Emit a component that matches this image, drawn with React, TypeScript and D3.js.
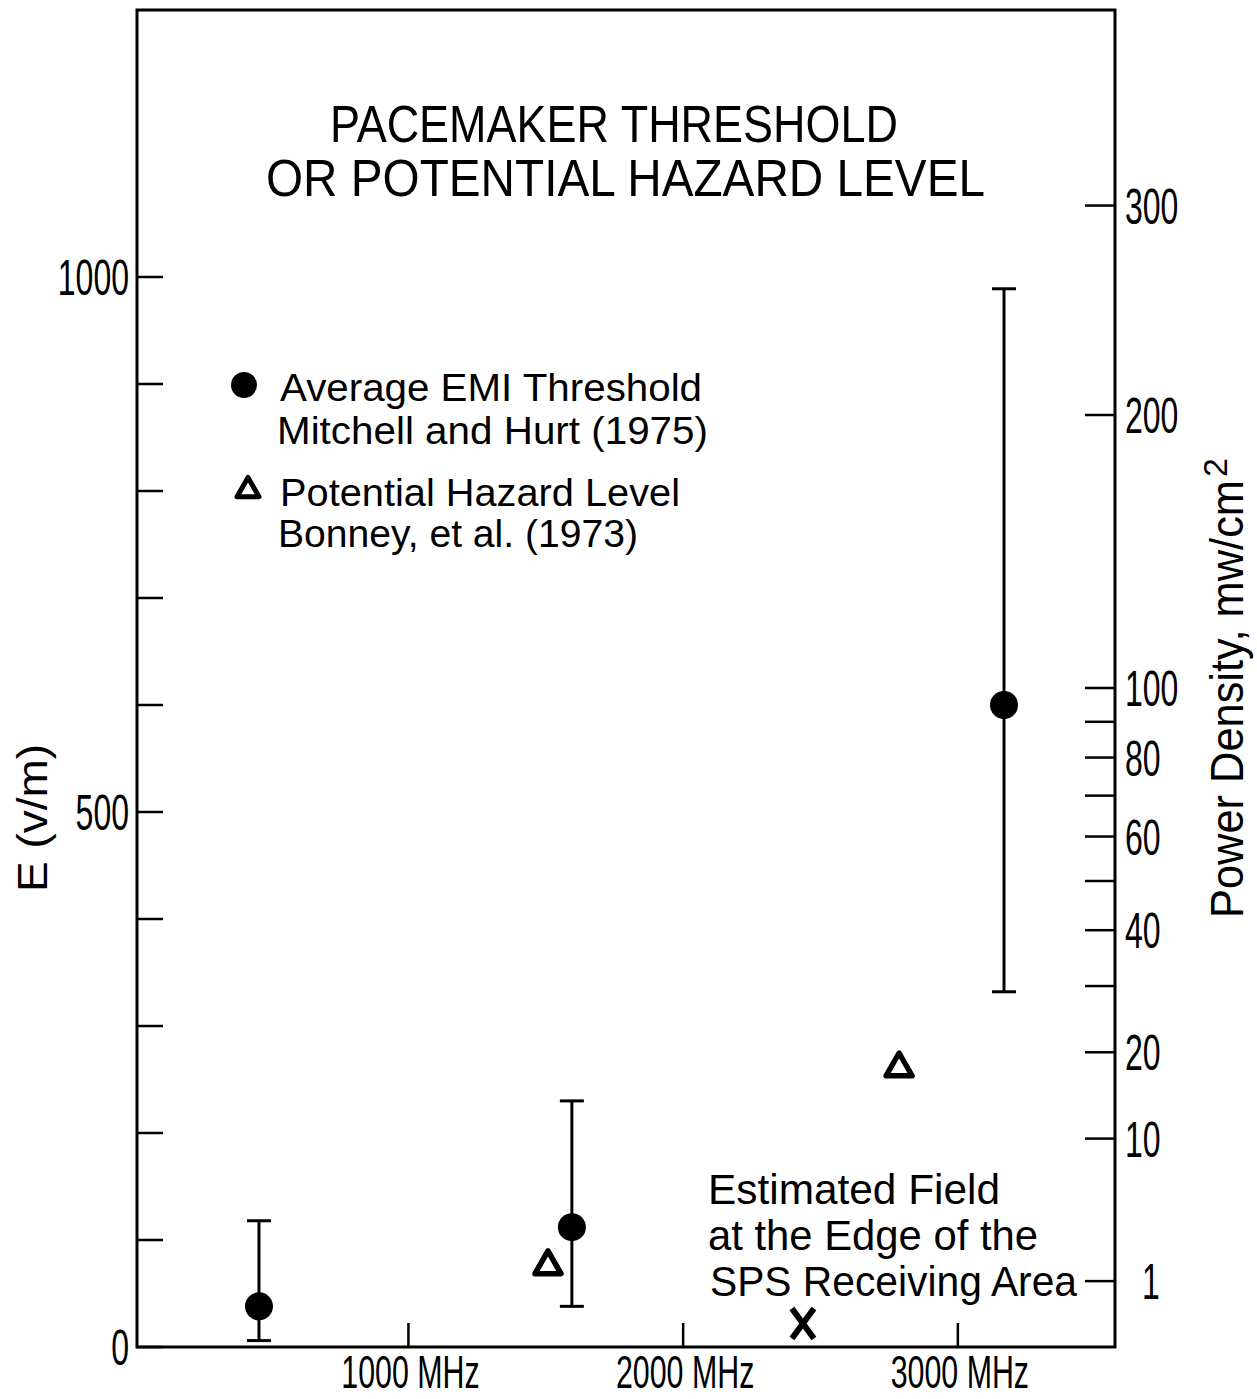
import React from 'react';
import * as d3 from 'd3';

const WIDTH = 1257;
const HEIGHT = 1399;

// Average EMI threshold, Mitchell and Hurt (1975)
const emiFreq = [456, 1595, 3168];
const emiField = [38, 112, 600];
const emiLow = [6, 38, 332];
const emiHigh = [118, 230, 989];

// Potential hazard level, Bonney et al. (1973)
const hazardFreq = [1508, 2786];
const hazardField = [77, 262];

// Estimated field at the edge of the SPS receiving area
const spsFreq = [2436];
const spsField = [22];

// axes
const fieldTicks = [0, 100, 200, 300, 400, 500, 600, 700, 800, 900, 1000];
const fieldLabels = [0, 500, 1000];
const freqTicks = [1000, 2000, 3000];
const powerTicks = [1, 10, 20, 30, 40, 50, 60, 70, 80, 90, 100, 200, 300];
const powerLabels = [1, 10, 20, 40, 60, 80, 100, 200, 300];

const FONT = '"Liberation Sans", Arial, sans-serif';

const left = 137;
const right = 1115;
const top = 10;
const bottom = 1347;

const x = d3.scaleLinear().domain([12, 3572]).range([left, right]);
const y = d3.scaleLinear().domain([0, 1000]).range([bottom, 277]);
// power density in mW/cm^2 grows with E^2, so the right axis is a sqrt scale
const p = d3.scaleSqrt().domain([0, 411.6]).range([bottom, top]);

const triangle = (s: number) => {
  const path = d3.path();
  path.moveTo(0, -s * 1.05);
  path.lineTo(s, s * 0.7);
  path.lineTo(-s, s * 0.7);
  path.closePath();
  return path.toString();
};

const Digits = ({ tx, ty, anchor, size, children }: any) => (
  <g transform={`translate(${tx},${ty}) scale(0.64,1)`}>
    <text textAnchor={anchor} dy="0.36em" fontSize={size} fontFamily={FONT}>
      {children}
    </text>
  </g>
);

export default function App() {
  return (
    <svg
      width={WIDTH}
      height={HEIGHT}
      style={{ position: 'absolute', left: 0, top: 0, background: '#fff' }}
    >
      <rect x={0} y={0} width={WIDTH} height={HEIGHT} fill="#fff" />

      {/* frame */}
      <rect
        x={left}
        y={top}
        width={right - left}
        height={bottom - top}
        fill="none"
        stroke="#000"
        strokeWidth={3}
      />

      {/* left axis */}
      {fieldTicks.map((t) => (
        <line key={'lt' + t} x1={left} x2={left + 26} y1={y(t)} y2={y(t)} stroke="#000" strokeWidth={2.5} />
      ))}
      {fieldLabels.map((t) => (
        <Digits key={'ll' + t} tx={129} ty={y(t)} anchor="end" size={50}>
          {t}
        </Digits>
      ))}
      <g transform={`translate(47, 818) rotate(-90)`}>
        <text textAnchor="middle" fontSize={42} fontFamily={FONT} textLength={148} lengthAdjust="spacingAndGlyphs">
          E (v/m)
        </text>
      </g>

      {/* bottom axis */}
      {freqTicks.map((t) => (
        <g key={'bt' + t}>
          <line x1={x(t)} x2={x(t)} y1={bottom} y2={bottom - 24} stroke="#000" strokeWidth={2.5} />
          <g transform={`translate(${x(t) + 2},${1388}) scale(0.66,1)`}>
            <text textAnchor="middle" fontSize={46} fontFamily={FONT}>
              {`${t} MHz`}
            </text>
          </g>
        </g>
      ))}

      {/* right axis */}
      {powerTicks.map((t) => (
        <line key={'rt' + t} x1={right - 30} x2={right} y1={p(t)} y2={p(t)} stroke="#000" strokeWidth={2.5} />
      ))}
      {powerLabels.map((t) => (
        <Digits key={'rl' + t} tx={t === 1 ? 1142 : 1125} ty={p(t)} anchor="start" size={50}>
          {t}
        </Digits>
      ))}
      <g transform={`translate(1243, 918) rotate(-90)`}>
        <text fontSize={47} fontFamily={FONT} textLength={438} lengthAdjust="spacingAndGlyphs">
          Power Density, mw/cm
        </text>
        <text x={441} y={-16} fontSize={34} fontFamily={FONT}>
          2
        </text>
      </g>

      {/* title */}
      <text x={330} y={142} fontSize={52} fontFamily={FONT} textLength={568} lengthAdjust="spacingAndGlyphs">
        PACEMAKER THRESHOLD
      </text>
      <text x={266} y={196} fontSize={52} fontFamily={FONT} textLength={719} lengthAdjust="spacingAndGlyphs">
        OR POTENTIAL HAZARD LEVEL
      </text>

      {/* legend */}
      <circle cx={244} cy={385} r={13} fill="#000" />
      <text x={280} y={401} fontSize={38} fontFamily={FONT} textLength={422} lengthAdjust="spacingAndGlyphs">
        Average EMI Threshold
      </text>
      <text x={277} y={444} fontSize={38} fontFamily={FONT} textLength={431} lengthAdjust="spacingAndGlyphs">
        Mitchell and Hurt (1975)
      </text>
      <path
        d={triangle(11)}
        transform="translate(248,489)"
        fill="none"
        stroke="#000"
        strokeWidth={5}
        strokeLinejoin="round"
      />
      <text x={280} y={506} fontSize={38} fontFamily={FONT} textLength={400} lengthAdjust="spacingAndGlyphs">
        Potential Hazard Level
      </text>
      <text x={278} y={547} fontSize={38} fontFamily={FONT} textLength={360} lengthAdjust="spacingAndGlyphs">
        Bonney, et al. (1973)
      </text>

      {/* annotation */}
      <text x={708} y={1204} fontSize={42} fontFamily={FONT} textLength={292} lengthAdjust="spacingAndGlyphs">
        Estimated Field
      </text>
      <text x={708} y={1250} fontSize={42} fontFamily={FONT} textLength={330} lengthAdjust="spacingAndGlyphs">
        at the Edge of the
      </text>
      <text x={710} y={1296} fontSize={42} fontFamily={FONT} textLength={367} lengthAdjust="spacingAndGlyphs">
        SPS Receiving Area
      </text>

      {/* EMI threshold points with ranges */}
      {emiFreq.map((f, i) => (
        <g key={'emi' + i}>
          <line x1={x(f)} x2={x(f)} y1={y(emiLow[i])} y2={y(emiHigh[i])} stroke="#000" strokeWidth={3} />
          <line x1={x(f) - 12} x2={x(f) + 12} y1={y(emiLow[i])} y2={y(emiLow[i])} stroke="#000" strokeWidth={3} />
          <line x1={x(f) - 12} x2={x(f) + 12} y1={y(emiHigh[i])} y2={y(emiHigh[i])} stroke="#000" strokeWidth={3} />
          <circle cx={x(f)} cy={y(emiField[i])} r={14} fill="#000" />
        </g>
      ))}

      {/* hazard levels */}
      {hazardFreq.map((f, i) => (
        <path
          key={'hz' + i}
          d={triangle(13)}
          transform={`translate(${x(f)},${y(hazardField[i])})`}
          fill="none"
          stroke="#000"
          strokeWidth={5.5}
          strokeLinejoin="round"
        />
      ))}

      {/* SPS estimate */}
      {spsFreq.map((f, i) => (
        <g key={'sps' + i} transform={`translate(${x(f)},${y(spsField[i])})`} stroke="#000" strokeWidth={6}>
          <line x1={-11} y1={-15} x2={11} y2={15} />
          <line x1={11} y1={-15} x2={-11} y2={15} />
        </g>
      ))}
    </svg>
  );
}
